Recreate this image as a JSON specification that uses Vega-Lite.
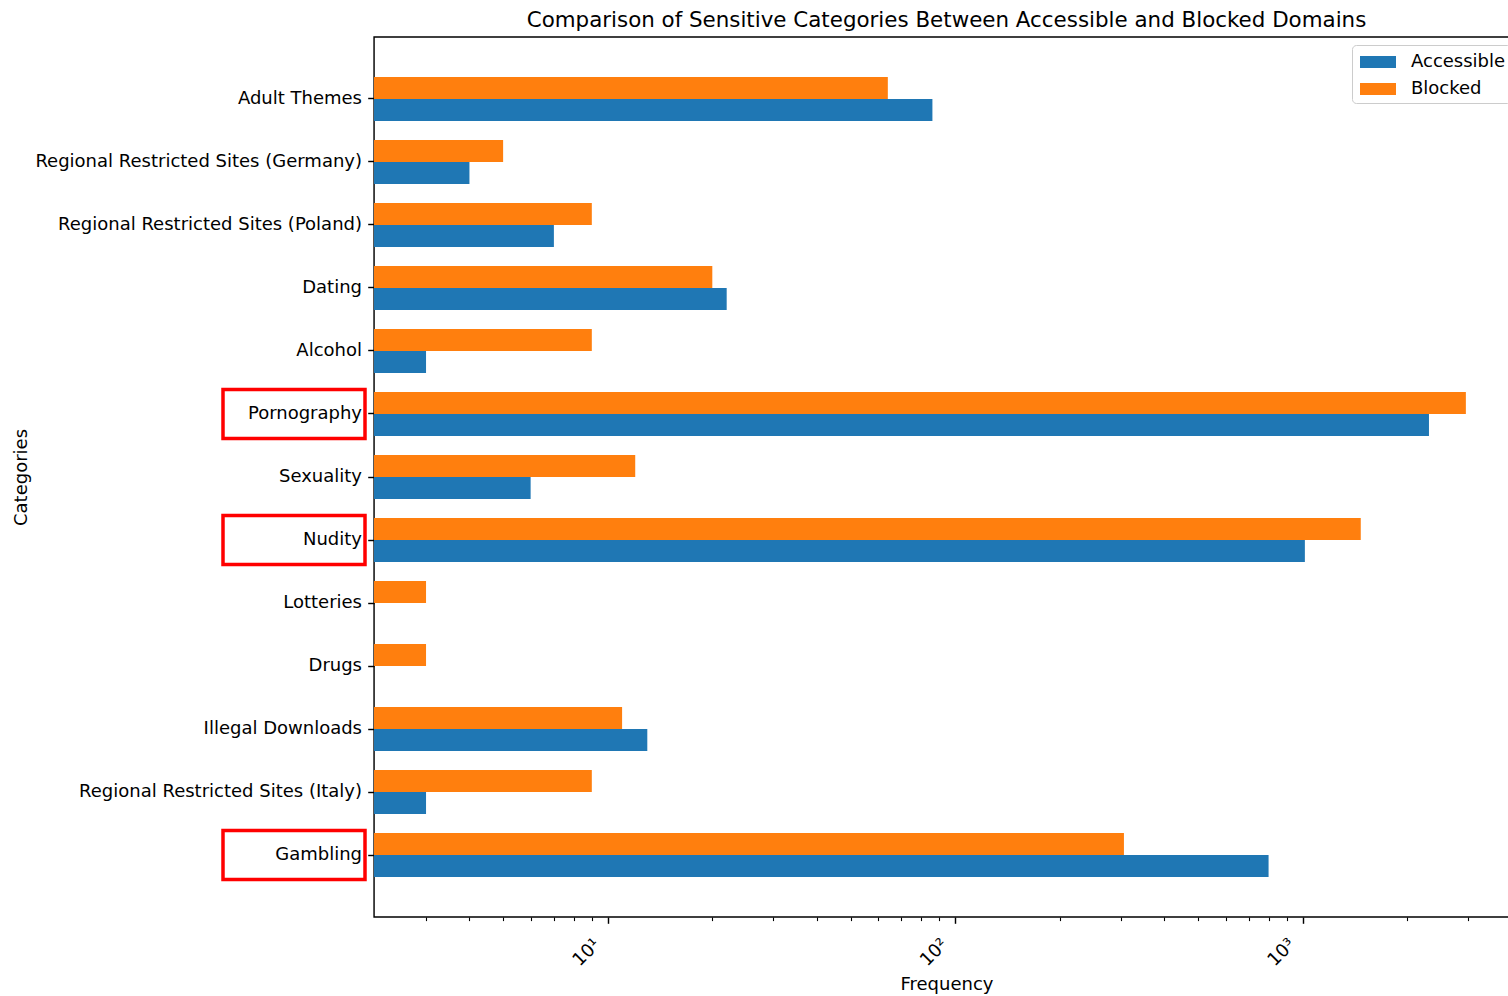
{
  "$schema": "https://vega.github.io/schema/vega-lite/v6.json",
  "background": "white",
  "autosize": {"type": "pad"},
  "padding": {"left": 12, "top": 8, "right": 0, "bottom": 0},
  "data": {
    "values": [
      {"category": "Adult Themes", "status": "Blocked", "value": 64},
      {"category": "Adult Themes", "status": "Accessible", "value": 86},
      {"category": "Regional Restricted Sites (Germany)", "status": "Blocked", "value": 5},
      {"category": "Regional Restricted Sites (Germany)", "status": "Accessible", "value": 4},
      {"category": "Regional Restricted Sites (Poland)", "status": "Blocked", "value": 9},
      {"category": "Regional Restricted Sites (Poland)", "status": "Accessible", "value": 7},
      {"category": "Dating", "status": "Blocked", "value": 20},
      {"category": "Dating", "status": "Accessible", "value": 22},
      {"category": "Alcohol", "status": "Blocked", "value": 9},
      {"category": "Alcohol", "status": "Accessible", "value": 3},
      {"category": "Pornography", "status": "Blocked", "value": 2950},
      {"category": "Pornography", "status": "Accessible", "value": 2310},
      {"category": "Sexuality", "status": "Blocked", "value": 12},
      {"category": "Sexuality", "status": "Accessible", "value": 6},
      {"category": "Nudity", "status": "Blocked", "value": 1470},
      {"category": "Nudity", "status": "Accessible", "value": 1015},
      {"category": "Lotteries", "status": "Blocked", "value": 3},
      {"category": "Drugs", "status": "Blocked", "value": 3},
      {"category": "Illegal Downloads", "status": "Blocked", "value": 11},
      {"category": "Illegal Downloads", "status": "Accessible", "value": 13},
      {"category": "Regional Restricted Sites (Italy)", "status": "Blocked", "value": 9},
      {"category": "Regional Restricted Sites (Italy)", "status": "Accessible", "value": 3},
      {"category": "Gambling", "status": "Blocked", "value": 306},
      {"category": "Gambling", "status": "Accessible", "value": 798}
    ]
  },
  "spacing": -1,
  "resolve": {
    "scale": {"yOffset": "independent", "color": "independent"},
    "legend": {"color": "independent"}
  },
  "hconcat": [
    {
      "width": 142,
      "height": 880,
      "view": {"stroke": null},
      "title": {"text": " ", "fontSize": 21.4, "font": "DejaVu Sans", "offset": 6},
      "encoding": {
        "y": {
          "field": "category",
          "type": "nominal",
          "sort": ["Adult Themes", "Regional Restricted Sites (Germany)", "Regional Restricted Sites (Poland)", "Dating", "Alcohol", "Pornography", "Sexuality", "Nudity", "Lotteries", "Drugs", "Illegal Downloads", "Regional Restricted Sites (Italy)", "Gambling"],
          "scale": {"paddingInner": 0.222, "paddingOuter": 0.595},
          "axis": {
            "labels": false,
            "ticks": false,
            "domain": false,
            "title": "Categories",
            "titleFont": "DejaVu Sans",
            "titleFontSize": 18,
            "titleFontWeight": "normal",
            "titleColor": "black",
            "titlePadding": 193
          }
        }
      },
      "layer": [
        {
          "transform": [
            {"filter": "datum.status == 'Blocked' && indexof(['Pornography', 'Nudity', 'Gambling'], datum.category) >= 0"}
          ],
          "mark": {"type": "rect", "filled": false, "stroke": "#ff0000", "strokeWidth": 3.5},
          "encoding": {
            "x": {"value": 0},
            "x2": {"value": "width"}
          }
        },
        {
          "transform": [{"filter": "datum.status == 'Blocked'"}],
          "mark": {"type": "text", "align": "right", "baseline": "middle", "dx": -3, "font": "DejaVu Sans", "fontSize": 18, "color": "black"},
          "encoding": {
            "x": {"value": "width"},
            "text": {"field": "category"}
          }
        }
      ]
    },
    {
      "width": 1145,
      "height": 880,
      "view": {"stroke": "black", "strokeWidth": 1.44},
      "title": {
        "text": "Comparison of Sensitive Categories Between Accessible and Blocked Domains",
        "anchor": "middle",
        "frame": "group",
        "font": "DejaVu Sans",
        "fontSize": 21.4,
        "fontWeight": "normal",
        "color": "black",
        "offset": 6
      },
      "mark": {"type": "bar"},
      "encoding": {
        "y": {
          "field": "category",
          "type": "nominal",
          "sort": ["Adult Themes", "Regional Restricted Sites (Germany)", "Regional Restricted Sites (Poland)", "Dating", "Alcohol", "Pornography", "Sexuality", "Nudity", "Lotteries", "Drugs", "Illegal Downloads", "Regional Restricted Sites (Italy)", "Gambling"],
          "scale": {"paddingInner": 0.3, "paddingOuter": 0.634},
          "axis": {
            "labels": false,
            "title": null,
            "domain": false,
            "ticks": true,
            "tickSize": 6.3,
            "tickWidth": 1.44,
            "tickColor": "black"
          }
        },
        "yOffset": {"field": "status", "type": "nominal", "sort": ["Blocked", "Accessible"]},
        "x": {
          "field": "value",
          "type": "quantitative",
          "stack": null,
          "scale": {"type": "log", "domain": [2.125, 4195]},
          "axis": {
            "title": "Frequency",
            "titleFont": "DejaVu Sans",
            "titleFontSize": 18,
            "titleFontWeight": "normal",
            "titleColor": "black",
            "titlePadding": 6,
            "grid": false,
            "domain": false,
            "values": [3, 4, 5, 6, 7, 8, 9, 10, 20, 30, 40, 50, 60, 70, 80, 90, 100, 200, 300, 400, 500, 600, 700, 800, 900, 1000, 2000, 3000, 4000],
            "labelExpr": "datum.value == 10 ? '10¹' : datum.value == 100 ? '10²' : datum.value == 1000 ? '10³' : ''",
            "labelAngle": -45,
            "labelAlign": "right",
            "labelBaseline": "top",
            "labelOffset": -17,
            "labelPadding": 12,
            "labelOverlap": false,
            "labelFlush": false,
            "labelFont": "DejaVu Sans",
            "labelFontSize": 18,
            "labelColor": "black",
            "tickColor": "black",
            "tickSize": {"condition": {"test": "datum.value == 10 || datum.value == 100 || datum.value == 1000", "value": 6.3}, "value": 3.6},
            "tickWidth": {"condition": {"test": "datum.value == 10 || datum.value == 100 || datum.value == 1000", "value": 1.44}, "value": 1.1}
          }
        },
        "color": {
          "field": "status",
          "type": "nominal",
          "scale": {"domain": ["Accessible", "Blocked"], "range": ["#1f77b4", "#ff7f0e"]},
          "legend": {
            "title": null,
            "orient": "top-right",
            "offset": 8,
            "labelFont": "DejaVu Sans",
            "labelFontSize": 18,
            "labelColor": "black",
            "symbolType": "M-1.5,-0.5H1.5V0.5H-1.5Z",
            "symbolSize": 576,
            "symbolStrokeWidth": 0,
            "symbolOffset": 9,
            "rowPadding": 6,
            "labelOffset": 21,
            "padding": 5,
            "strokeColor": "#cccccc",
            "cornerRadius": 4,
            "fillColor": "rgba(255,255,255,0.8)"
          }
        }
      }
    }
  ]
}
